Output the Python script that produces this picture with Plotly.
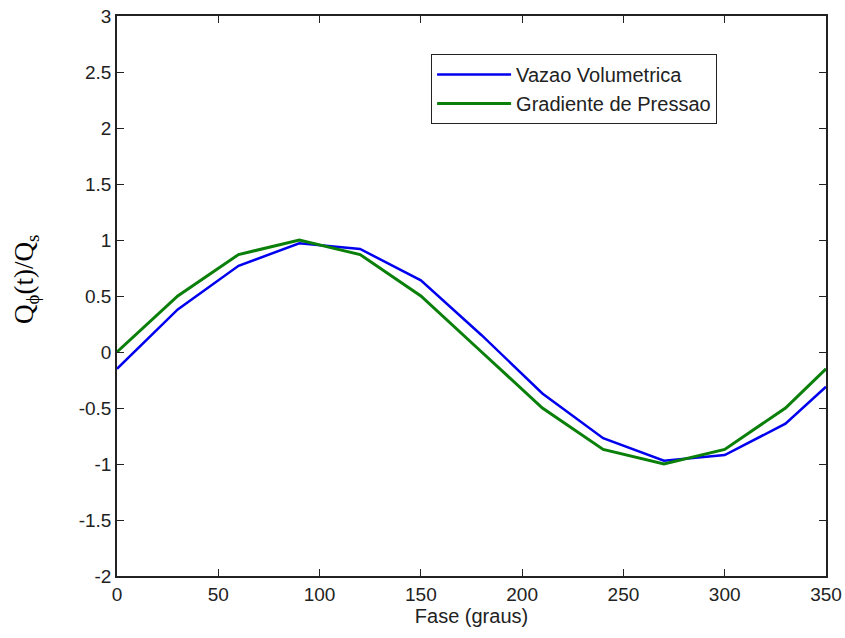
import plotly.graph_objects as go

fase = [0, 30, 60, 90, 120, 150, 180, 210, 240, 270, 300, 330, 350]
vazao = [-0.15, 0.38, 0.77, 0.97, 0.92, 0.64, 0.15, -0.37, -0.77, -0.97, -0.92, -0.64, -0.31]
gradiente = [0.0, 0.5, 0.87, 1.0, 0.87, 0.5, 0.0, -0.5, -0.87, -1.0, -0.87, -0.5, -0.15]
xticks = [0, 50, 100, 150, 200, 250, 300, 350]
yticks = [-2, -1.5, -1, -0.5, 0, 0.5, 1, 1.5, 2, 2.5, 3]

fig = go.Figure()
fig.add_trace(go.Scatter(x=fase, y=vazao, mode="lines", name="Vazao Volumetrica",
                         line=dict(color="#0000ee", width=2.5)))
fig.add_trace(go.Scatter(x=fase, y=gradiente, mode="lines", name="Gradiente de Pressao",
                         line=dict(color="#0a800a", width=3)))

sans = "Liberation Sans, Arial"
axis_common = dict(showgrid=False, zeroline=False, showline=True, linecolor="#222", linewidth=1.5,
                   mirror="allticks", ticks="inside", ticklen=7, tickcolor="#222",
                   automargin=False,
                   tickfont=dict(family=sans, size=19, color="#222"))
fig.update_xaxes(range=[0, 350], tickvals=xticks, ticktext=[str(v) for v in xticks],
                 title=dict(text="Fase (graus)", font=dict(family=sans, size=20, color="#222"), standoff=5),
                 **axis_common)
fig.update_yaxes(range=[-2, 3], tickvals=yticks, ticktext=[("%g" % v) for v in yticks],
                 **axis_common)
fig.add_annotation(text="Q<sub>ϕ</sub>(t)/Q<sub>s</sub>", textangle=-90,
                   xref="paper", yref="paper", x=-0.128, y=0.529,
                   xanchor="center", yanchor="middle", showarrow=False,
                   font=dict(family="Liberation Serif, Times New Roman", size=27, color="black"))
fig.update_layout(
    width=845, height=638,
    margin=dict(l=117, r=19, t=16, b=62),
    paper_bgcolor="white", plot_bgcolor="white",
    showlegend=True,
    legend=dict(x=0.443, y=0.932, xanchor="left", yanchor="top",
                bordercolor="#222", borderwidth=1, bgcolor="white",
                font=dict(family=sans, size=20, color="#222"),
                itemwidth=74, tracegroupgap=0),
)
fig.write_html("out.html")
